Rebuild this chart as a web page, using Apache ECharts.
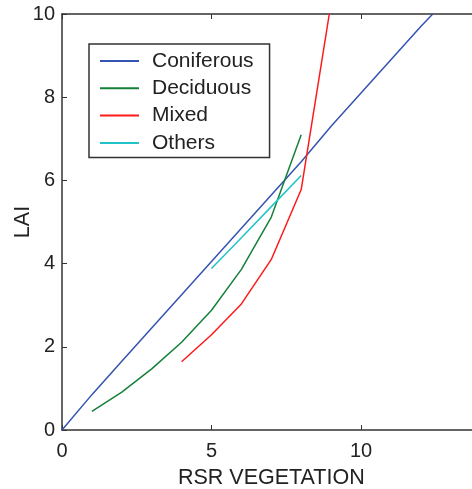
<!DOCTYPE html>
<html>
<head>
<meta charset="utf-8">
<script src="https://cdn.jsdelivr.net/npm/echarts@6/dist/echarts.min.js"></script>
<style>html,body{margin:0;padding:0;background:#fff}#c{width:472px;height:489px}</style>
</head>
<body>
<div id="c"></div>
<script>
const seriesNames = ['Coniferous', 'Deciduous', 'Mixed', 'Others'];
const coniferous = [[0,0],[1,0.85],[2,1.65],[3,2.45],[4,3.25],[5,4.05],[6,4.85],[7,5.65],[8,6.45],[9,7.3],[10,8.1],[11,8.9],[12,9.7],[12.4,10]];
const deciduous = [[1,0.45],[2,0.91],[3,1.47],[4,2.11],[5,2.88],[6,3.86],[7,5.12],[8,7.1]];
const mixed = [[4,1.64],[5,2.29],[6,3.03],[7,4.1],[8,5.78],[8.94,10]];
const others = [[5,3.88],[6,4.62],[7,5.37],[8,6.12]];
const xTicks = [0, 5, 10];
const xMax = 14;
const yTicks = [0, 2, 4, 6, 8, 10];

const colors = ['#3553b0', '#15803a', '#ff1a1a', '#1fc3c8'];
const dataSets = [coniferous, deciduous, mixed, others];
const textColor = '#222';
const axisColor = '#333';

const chart = echarts.init(document.getElementById('c'), null, {renderer: 'canvas'});
chart.setOption({
  animation: false,
  backgroundColor: '#fff',
  grid: {left: 62, top: 14, bottom: 59, right: -8.6, containLabel: false, outerBoundsMode: 'none'},
  legend: {
    orient: 'vertical',
    left: 89, top: 44,
    data: seriesNames,
    icon: 'rect',
    itemWidth: 39, itemHeight: 2,
    itemGap: 6.3,
    padding: [6.5, 16, 4, 11],
    borderColor: axisColor, borderWidth: 1.5,
    backgroundColor: '#fff',
    textStyle: {fontFamily: 'Liberation Sans', fontSize: 21, color: textColor, lineHeight: 21, padding: [0, 0, 0, 8]}
  },
  xAxis: [{
    type: 'value', min: xTicks[0], max: xMax, interval: 5,
    name: 'RSR VEGETATION', nameLocation: 'middle', nameGap: 37,
    nameTextStyle: {fontFamily: 'Liberation Sans', fontSize: 21.5, color: textColor},
    axisLine: {show: true, lineStyle: {color: axisColor, width: 1.5}},
    axisTick: {show: true, inside: true, length: 5, lineStyle: {color: axisColor}},
    axisLabel: {fontFamily: 'Liberation Sans', fontSize: 20, color: textColor, margin: 11, showMaxLabel: false},
    splitLine: {show: false}
  }, {
    type: 'value', position: 'top', min: xTicks[0], max: xMax, interval: 5,
    axisLine: {show: true, onZero: false, lineStyle: {color: axisColor, width: 1.5}},
    axisTick: {show: true, inside: true, length: 5, lineStyle: {color: axisColor}},
    axisLabel: {show: false},
    splitLine: {show: false}
  }],
  yAxis: {
    type: 'value', min: yTicks[0], max: yTicks[yTicks.length-1], interval: 2,
    name: 'LAI', nameLocation: 'middle', nameGap: 28, nameRotate: 90, nameMoveOverlap: false,
    nameTextStyle: {fontFamily: 'Liberation Sans', fontSize: 21.5, color: textColor},
    axisLine: {show: true, lineStyle: {color: axisColor, width: 1.5}},
    axisTick: {show: true, inside: true, length: 5, lineStyle: {color: axisColor}},
    axisLabel: {fontFamily: 'Liberation Sans', fontSize: 20, color: textColor, margin: 7},
    splitLine: {show: false}
  },
  series: seriesNames.map((n, i) => ({
    name: n, type: 'line', data: dataSets[i], showSymbol: false, symbol: 'none',
    color: colors[i],
    lineStyle: {color: colors[i], width: 1.5}, clip: true
  }))
});
</script>
</body>
</html>
